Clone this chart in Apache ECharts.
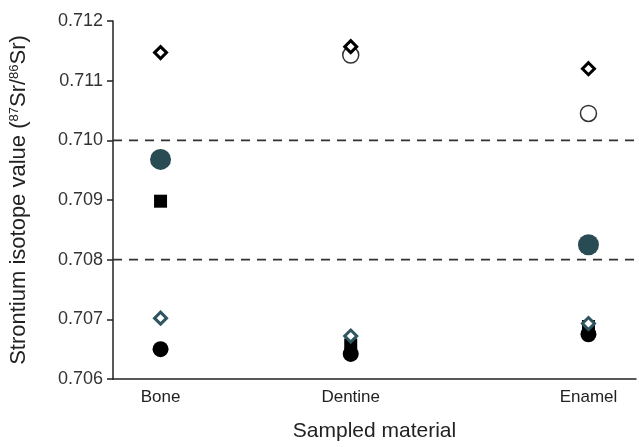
<!DOCTYPE html>
<html><head><meta charset="utf-8">
<script src="https://cdn.jsdelivr.net/npm/echarts@6/dist/echarts.min.js"></script>
<style>html,body{margin:0;padding:0;background:#fff}#c{width:639px;height:447px}</style>
</head><body><div id="c"></div>
<script>
const categories = ['Bone', 'Dentine', 'Enamel'];
const categoryX = [1, 5, 10];
const blackCircle = [0.70650, 0.70642, 0.70675];
const blackSquare = [0.70898, 0.70657, 0.70688];
const tealDiamond = [0.70702, 0.70672, 0.70693];
const tealCircle = [0.70968, null, 0.70825];
const openCircle = [null, 0.71143, 0.71045];
const blackDiamond = [0.71147, 0.71157, 0.71120];
const thresholds = [0.710, 0.708];

function pts(vals){ return vals.map((v,i)=> v==null?null:[categoryX[i], v]).filter(p=>p); }

const font = 'Liberation Sans, Arial, sans-serif';
const chart = echarts.init(document.getElementById('c'));
const dashSeries = thresholds.map(t=>({type:'line', data:[[0,t],[11,t]], symbol:'none', silent:true, z:1,
  lineStyle:{type:[9,7], color:'#333', width:1.8}}));
chart.setOption({
  animation:false,
  grid:{left:110, right:0, top:21, bottom:65},
  xAxis:{type:'value', min:0, max:11, interval:1,
    axisLine:{lineStyle:{color:'#222', width:1.5}},
    axisTick:{show:false}, splitLine:{show:false},
    axisLabel:{fontFamily:font, fontSize:17, color:'#222', margin:10,
      formatter:v=>{const i=categoryX.indexOf(v); return i>=0?categories[i]:'';}},
    name:'Sampled material', nameLocation:'middle', nameGap:42,
    nameTextStyle:{fontFamily:font, fontSize:21, color:'#222'}},
  yAxis:{type:'value', min:0.706, max:0.712, interval:0.001,
    axisLine:{show:true, lineStyle:{color:'#222', width:1.5}},
    axisTick:{show:true, length:6, lineStyle:{color:'#222', width:1.5}},
    splitLine:{show:false},
    axisLabel:{fontFamily:font, fontSize:18, color:'#333', margin:10, formatter:v=>v.toFixed(3)},
    name:'{n|Strontium isotope value (}{s|87}{n|Sr/}{s|86}{n|Sr)}', nameLocation:'middle', nameGap:83, nameRotate:90,
    nameTextStyle:{rich:{n:{fontFamily:font, fontSize:22, color:'#222'}, s:{fontFamily:font, fontSize:13, color:'#222', verticalAlign:'top', padding:[0,0,9,0]}}}},
  series:[
    ...dashSeries,
    {type:'scatter', data:pts(blackCircle), symbol:'circle', symbolSize:16, itemStyle:{color:'#000', opacity:1}, z:2},
    {type:'scatter', data:pts(blackSquare), symbol:'rect', symbolSize:13, itemStyle:{color:'#000', opacity:1}, z:3},
    {type:'scatter', data:pts(tealDiamond), symbol:'diamond', symbolSize:12, itemStyle:{color:'#fff', borderColor:'#2e5560', borderWidth:3, opacity:1}, z:4},
    {type:'scatter', data:pts(tealCircle), symbol:'circle', symbolSize:21, itemStyle:{color:'#284b54', opacity:1}, z:5},
    {type:'scatter', data:pts(openCircle), symbol:'circle', symbolSize:16, itemStyle:{color:'#fff', borderColor:'#333', borderWidth:1.5, opacity:1}, z:6},
    {type:'scatter', data:pts(blackDiamond), symbol:'diamond', symbolSize:12, itemStyle:{color:'#fff', borderColor:'#000', borderWidth:3, opacity:1}, z:7}
  ]
});
</script></body></html>
